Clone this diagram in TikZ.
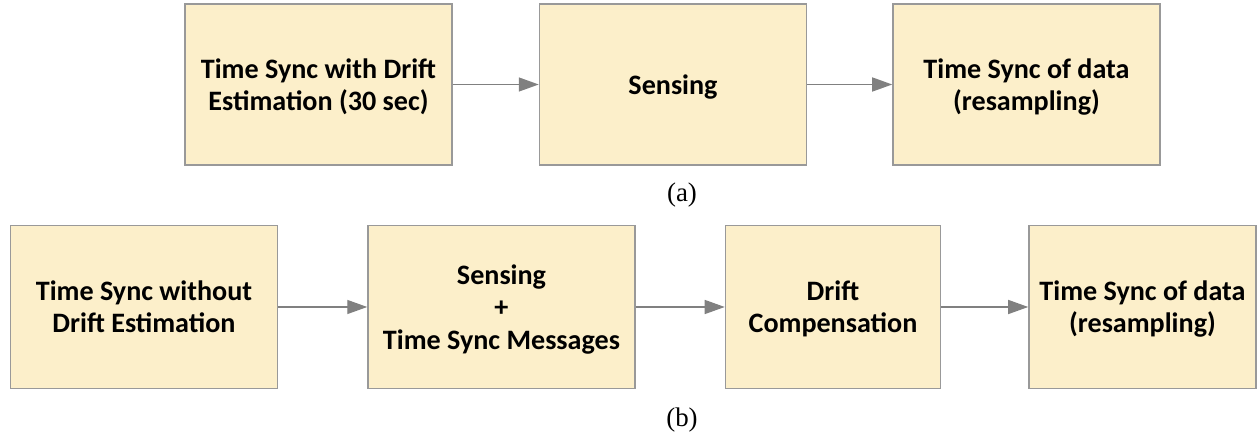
\documentclass[tikz,border=0pt]{standalone}
\usepackage{fontspec}
\setmainfont{Liberation Serif}
\newfontfamily\boxfont{Carlito}
\usetikzlibrary{positioning, arrows.meta}

\definecolor{boxfill}{HTML}{FCEFCA}
\definecolor{boxline}{HTML}{999999}
\definecolor{arrowgray}{HTML}{808080}

\begin{document}
\begin{tikzpicture}[node distance=1.72cm,
        stage/.style={rectangle, draw=boxline, line width=0.85pt, fill=boxfill, align=center,
                minimum width=5.34cm, minimum height=3.22cm, inner sep=0pt, text depth=0pt,
                font=\boxfont\bfseries\fontsize{16}{18.3}\selectfont},
        flow/.style={draw=arrowgray, line width=0.8pt, -{Triangle[length=0.4cm, width=0.28cm]}},
        caption/.style={font=\fontsize{15.3}{18}\selectfont}]
        \useasboundingbox (0,0) rectangle (25.16,-8.7);

        % Row (a)
        \node[stage] (A1) at (6.37,-1.69) {Time Sync with Drift\\Estimation (30 sec)};
        \node[stage] (A2) [right=of A1] {Sensing};
        \node[stage] (A3) [right=1.7cm of A2] {Time Sync of data\\(resampling)};
        \node[caption] (capA) at (13.64,-3.9) {(a)};

        % Row (b)
        \node[stage, minimum height=3.26cm] (B1) at (2.88,-6.14) {Time Sync without\\Drift Estimation};
        \node[stage, minimum height=3.26cm] (B2) [right=1.78cm of B1] {Sensing\\+\\Time Sync Messages};
        \node[stage, minimum height=3.26cm, minimum width=4.3cm] (B3) [right=1.78cm of B2] {Drift\\Compensation};
        \node[stage, minimum height=3.26cm, minimum width=4.54cm] (B4) [right=1.74cm of B3] {Time Sync of data\\(resampling)};
        \node[caption] (capB) at (13.64,-8.4) {(b)};

        % Arrows
        \foreach \i/\j in {A1/A2, A2/A3, B1/B2, B2/B3, B3/B4} {
                \draw[flow] (\i) -- (\j);
        }
\end{tikzpicture}
\end{document}
